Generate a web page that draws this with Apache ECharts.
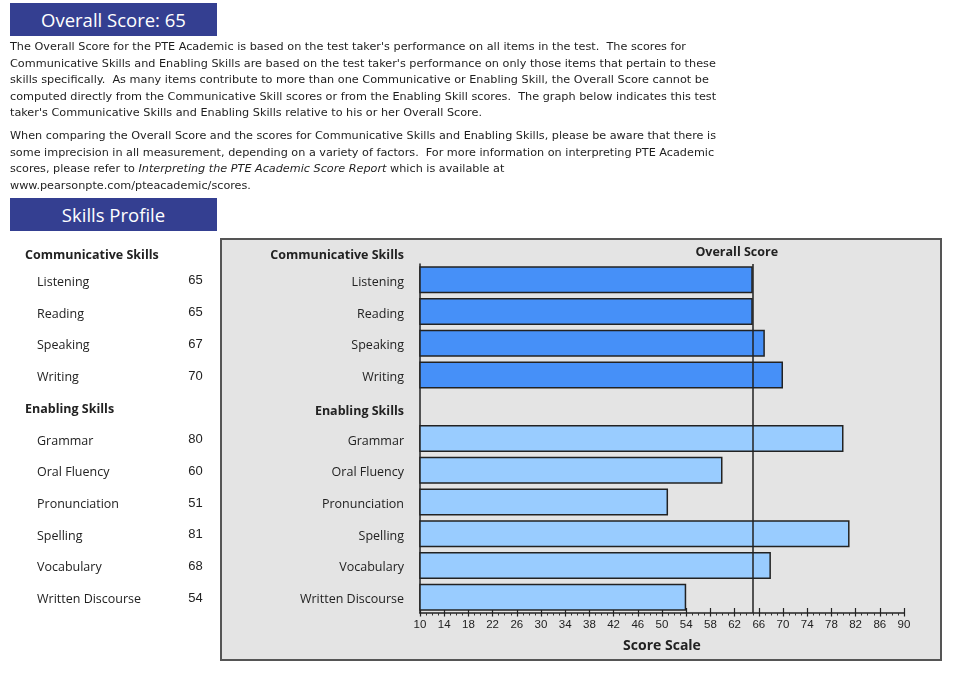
<!DOCTYPE html>
<html><head><meta charset="utf-8">
<script src="https://cdn.jsdelivr.net/npm/echarts@6/dist/echarts.min.js"></script>
<style>
html,body{margin:0;padding:0;background:#fff;width:974px;height:700px;overflow:hidden;}
#box{position:absolute;left:220px;top:238px;width:718px;height:419px;background:#e4e4e4;border:2px solid #555;}
#chart{position:absolute;left:0;top:0;width:974px;height:700px;}
.hdr{position:absolute;left:10px;width:207px;height:33px;background:#343f91;color:#fff;font-family:'Open Sans';font-size:18.5px;text-align:center;line-height:33px;}
.para{position:absolute;left:10px;font-family:'DejaVu Sans Condensed','DejaVu Sans';font-size:10.5px;line-height:16.6px;color:#1e1e1e;white-space:pre;transform-origin:0 0;}
</style></head><body>
<div id="box"></div>
<div id="chart"></div>
<div class="hdr" style="top:3px">Overall Score: 65</div>
<div class="para" id="p1" style="top:38px"><span id="l1">The Overall Score for the PTE Academic is based on the test taker's performance on all items in the test.  The scores for</span>
Communicative Skills and Enabling Skills are based on the test taker's performance on only those items that pertain to these
skills specifically.  As many items contribute to more than one Communicative or Enabling Skill, the Overall Score cannot be
computed directly from the Communicative Skill scores or from the Enabling Skill scores.  The graph below indicates this test
taker's Communicative Skills and Enabling Skills relative to his or her Overall Score.</div>
<div class="para" id="p2" style="top:127px"><span id="l2">When comparing the Overall Score and the scores for Communicative Skills and Enabling Skills, please be aware that there is</span>
some imprecision in all measurement, depending on a variety of factors.  For more information on interpreting PTE Academic
scores, please refer to <i>Interpreting the PTE Academic Score Report</i> which is available at
www.pearsonpte.com/pteacademic/scores.</div>
<div class="hdr" style="top:198px">Skills Profile</div>
<script>
const commSkills = ['Listening', 'Reading', 'Speaking', 'Writing'];
const commScores = [65, 65, 67, 70];
const enablingSkills = ['Grammar', 'Oral Fluency', 'Pronunciation', 'Spelling', 'Vocabulary', 'Written Discourse'];
const enablingScores = [80, 60, 51, 81, 68, 54];
const overallScore = 65;
const scoreTicks = [10, 14, 18, 22, 26, 30, 34, 38, 42, 46, 50, 54, 58, 62, 66, 70, 74, 78, 82, 86, 90];
const scoreMin = 10, scoreMax = 90;

// fit paragraph widths to the reference
[['p1','l1',676],['p2','l2',706]].forEach(([p,l,w])=>{
  const el=document.getElementById(l); const s=w/el.getBoundingClientRect().width;
  document.getElementById(p).style.transform='scaleX('+s+')';
});

const categories = commSkills.concat(['Enabling Skills'], enablingSkills);
const commData = categories.map(c => { const i = commSkills.indexOf(c); return i >= 0 ? commScores[i] : '-'; });
const enabData = categories.map(c => { const i = enablingSkills.indexOf(c); return i >= 0 ? enablingScores[i] : '-'; });
const minorTicks = []; for (let v = scoreMin; v <= scoreMax; v++) minorTicks.push(v);

const FONT = 'Open Sans';
const FS = 12.5;
const chart = echarts.init(document.getElementById('chart'));
const barStyle = (c) => ({color: c, borderColor: '#222', borderWidth: 1.5});
const xBase = {type:'value', min:scoreMin, max:scoreMax, position:'bottom', splitLine:{show:false}};
chart.setOption({
  animation:false,
  grid:{left:420, right:70, top:264, bottom:87},
  xAxis:[
    Object.assign({}, xBase, {
      axisLine:{show:true, lineStyle:{color:'#222', width:1.5}},
      axisTick:{show:true, inside:true, length:5, customValues:scoreTicks, lineStyle:{color:'#222', width:1.2}},
      axisLabel:{customValues:scoreTicks, color:'#222', fontSize:11.5, fontFamily:'Liberation Sans', margin:6},
      name:'Score Scale', nameLocation:'middle', nameGap:26,
      nameTextStyle:{fontFamily:FONT, fontWeight:'bold', fontSize:14, color:'#222'}
    }),
    Object.assign({}, xBase, {
      axisLine:{show:false},
      axisTick:{show:true, inside:false, length:2.5, customValues:minorTicks, lineStyle:{color:'#333', width:1}},
      axisLabel:{show:false}
    }),
    Object.assign({}, xBase, {
      axisLine:{show:false},
      axisTick:{show:true, inside:false, length:3.5, customValues:scoreTicks, lineStyle:{color:'#222', width:1.2}},
      axisLabel:{show:false}
    })
  ],
  yAxis:{
    type:'category', data:categories, inverse:true,
    axisLine:{show:true, lineStyle:{color:'#222', width:1.5}},
    axisTick:{show:false},
    axisLabel:{
      margin:16, color:'#222', fontSize:FS, fontFamily:FONT, padding:[5,0,0,0],
      formatter: v => v === 'Enabling Skills' ? '{b|' + v + '}' : v,
      rich:{b:{fontWeight:'bold', fontSize:FS, fontFamily:FONT, color:'#222', padding:[5,0,0,0]}}
    }
  },
  series:[
    {type:'bar', name:'Communicative Skills', data:commData, barWidth:27, barGap:'-100%', itemStyle:barStyle('#4690f8'),
     markLine:{silent:true, symbol:'none', label:{show:false}, lineStyle:{color:'#222', width:1.5, type:'solid'}, data:[{xAxis:overallScore}]}},
    {type:'bar', name:'Enabling Skills', data:enabData, barWidth:27, barGap:'-100%', itemStyle:barStyle('#99ccff')}
  ]
});

const rowY = c => chart.convertToPixel({yAxisIndex:0}, c) + 2.5;
const headY = rowY(commSkills[0]) - 27;
const overallX = chart.convertToPixel({xAxisIndex:0}, overallScore);
const g = [];
const F = (w, s) => (w ? 'bold ' : '') + s + 'px "' + FONT + '"';
const txt = (x, y, t, opt) => g.push({type:'text', x, y, style:Object.assign({text:t, fill:'#222', font:F(false, FS), textVerticalAlign:'middle'}, opt || {})});
txt(404, headY, 'Communicative Skills', {textAlign:'right', font:F(true, FS)});
txt(overallX - 16, 252, 'Overall Score', {textAlign:'center', font:F(true, FS)});
txt(25, headY, 'Communicative Skills', {font:F(true, FS)});
txt(25, rowY('Enabling Skills'), 'Enabling Skills', {font:F(true, FS)});
commSkills.forEach((s, i) => { txt(37, rowY(s), s); txt(195.5, rowY(s) - 1.5, String(commScores[i]), {textAlign:'center', font:'13px "Liberation Sans"'}); });
enablingSkills.forEach((s, i) => { txt(37, rowY(s), s); txt(195.5, rowY(s) - 1.5, String(enablingScores[i]), {textAlign:'center', font:'13px "Liberation Sans"'}); });
chart.setOption({graphic:g});
</script>
</body></html>
